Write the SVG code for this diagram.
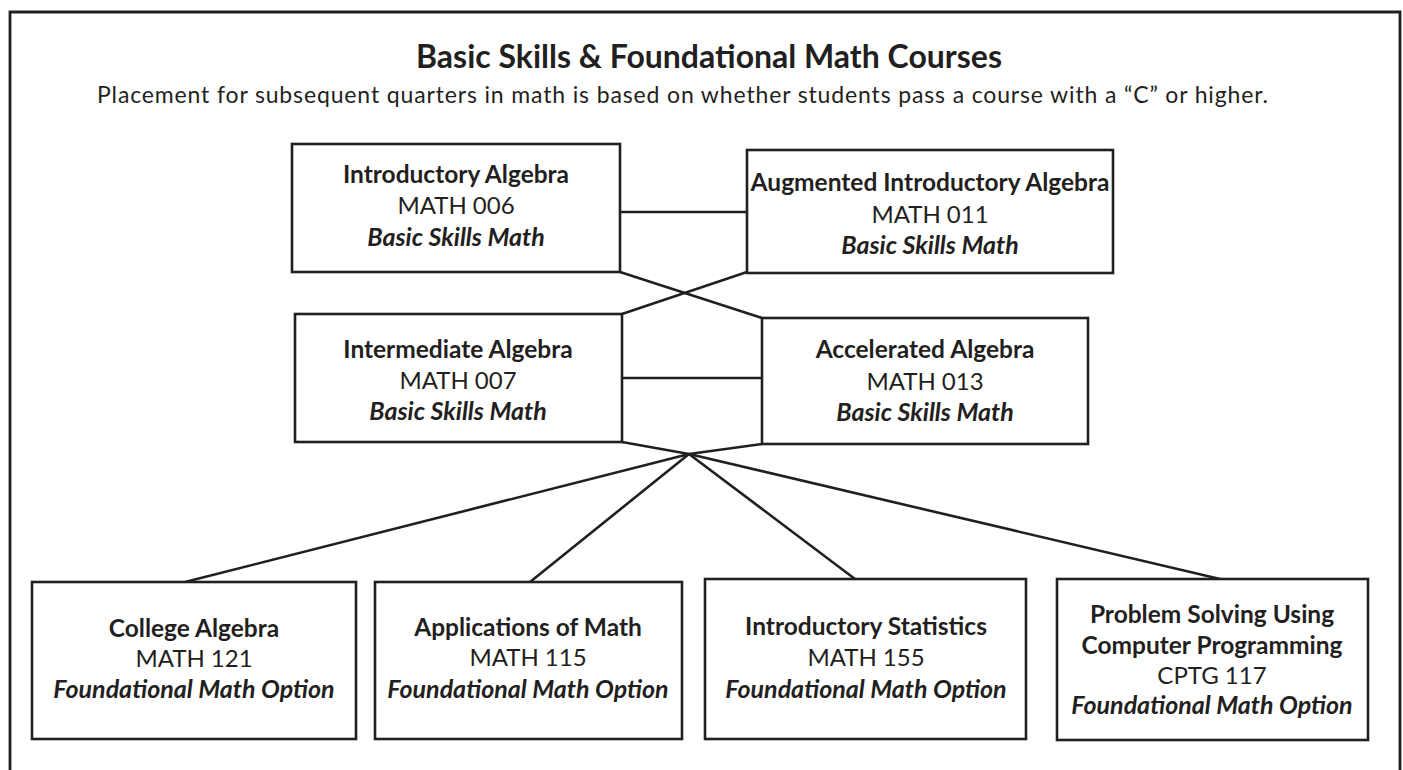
<svg xmlns="http://www.w3.org/2000/svg" width="1403" height="770" viewBox="0 0 1403 770">
<style>
  .box { fill: #ffffff; stroke: #231f20; stroke-width: 2.6; }
  .conn { fill: none; stroke: #231f20; stroke-width: 2.6; stroke-linecap: butt; }
  text { font-family: Lato, "Open Sans", "Liberation Sans", sans-serif; fill: #231f20; text-anchor: middle; }
  .t { font-weight: bold; font-size: 24.5px; }
  .c { font-size: 24px; }
  .k { font-weight: bold; font-style: italic; font-size: 25px; }
</style>
<rect x="0" y="0" width="1403" height="770" fill="#ffffff"/>
<path d="M10,770 V12 H1400 V770" fill="none" stroke="#231f20" stroke-width="2.8"/>
<text x="709" y="68" style="font-weight:bold;font-size:32px">Basic Skills &amp; Foundational Math Courses</text>
<text x="97" y="103" style="font-size:23px;text-anchor:start" textLength="1171" lengthAdjust="spacing">Placement for subsequent quarters in math is based on whether students pass a course with a “C” or higher.</text>

<g id="connectors">
  <line class="conn" x1="620" y1="212" x2="747" y2="212"/>
  <line class="conn" x1="620" y1="272" x2="762" y2="318"/>
  <line class="conn" x1="747" y1="272" x2="622" y2="314"/>
  <line class="conn" x1="622" y1="378" x2="762" y2="378"/>
  <line class="conn" x1="622" y1="442" x2="689" y2="454"/>
  <line class="conn" x1="762" y1="444" x2="689" y2="454"/>
  <line class="conn" x1="689" y1="454" x2="185" y2="582"/>
  <line class="conn" x1="689" y1="454" x2="530" y2="582"/>
  <line class="conn" x1="689" y1="454" x2="855" y2="579"/>
  <line class="conn" x1="689" y1="454" x2="1220" y2="579"/>
</g>

<g id="math006">
  <rect class="box" x="292" y="144" width="328" height="128"/>
  <text class="t" x="456" y="183">Introductory Algebra</text>
  <text class="c" x="456" y="214">MATH 006</text>
  <text class="k" x="456" y="246">Basic Skills Math</text>
</g>
<g id="math011">
  <rect class="box" x="747" y="150" width="366" height="123"/>
  <text class="t" x="930" y="191">Augmented Introductory Algebra</text>
  <text class="c" x="930" y="223">MATH 011</text>
  <text class="k" x="930" y="254">Basic Skills Math</text>
</g>
<g id="math007">
  <rect class="box" x="295" y="314" width="327" height="128"/>
  <text class="t" x="458" y="358">Intermediate Algebra</text>
  <text class="c" x="458" y="389">MATH 007</text>
  <text class="k" x="458" y="420">Basic Skills Math</text>
</g>
<g id="math013">
  <rect class="box" x="762" y="318" width="326" height="126"/>
  <text class="t" x="925" y="358">Accelerated Algebra</text>
  <text class="c" x="925" y="390">MATH 013</text>
  <text class="k" x="925" y="421">Basic Skills Math</text>
</g>
<g id="math121">
  <rect class="box" x="32" y="582" width="324" height="157"/>
  <text class="t" x="194" y="637">College Algebra</text>
  <text class="c" x="194" y="667">MATH 121</text>
  <text class="k" x="194" y="698">Foundational Math Option</text>
</g>
<g id="math115">
  <rect class="box" x="375" y="582" width="307" height="157"/>
  <text class="t" x="528" y="636">Applications of Math</text>
  <text class="c" x="528" y="666">MATH 115</text>
  <text class="k" x="528" y="698">Foundational Math Option</text>
</g>
<g id="math155">
  <rect class="box" x="705" y="579" width="321" height="160"/>
  <text class="t" x="866" y="635">Introductory Statistics</text>
  <text class="c" x="866" y="666">MATH 155</text>
  <text class="k" x="866" y="698">Foundational Math Option</text>
</g>
<g id="cptg117">
  <rect class="box" x="1057" y="579" width="311" height="161"/>
  <text class="t" x="1212" y="623">Problem Solving Using</text>
  <text class="t" x="1212" y="654">Computer Programming</text>
  <text class="c" x="1212" y="684">CPTG 117</text>
  <text class="k" x="1212" y="714">Foundational Math Option</text>
</g>
</svg>
